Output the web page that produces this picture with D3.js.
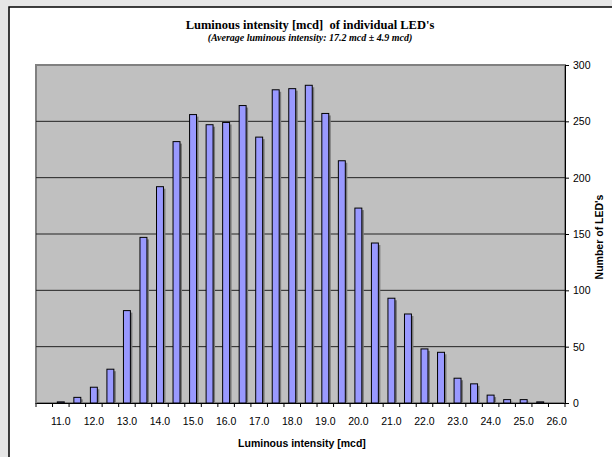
<!DOCTYPE html>
<html>
<head>
<meta charset="utf-8">
<script src="https://cdn.jsdelivr.net/npm/d3@7/dist/d3.min.js"></script>
<style>
  html, body { margin: 0; padding: 0; background: #e6e6e6; }
  svg { display: block; }
</style>
</head>
<body>
<svg id="chart" width="612" height="457"></svg>
<script>
const categories = ["10.5","11.0","11.5","12.0","12.5","13.0","13.5","14.0","14.5","15.0","15.5","16.0","16.5","17.0","17.5","18.0","18.5","19.0","19.5","20.0","20.5","21.0","21.5","22.0","22.5","23.0","23.5","24.0","24.5","25.0","25.5","26.0"];
const counts = [0, 1, 5, 14, 30, 82, 147, 192, 232, 256, 247, 249, 264, 236, 278, 279, 282, 257, 215, 173, 142, 93, 79, 48, 45, 22, 17, 7, 3, 3, 1, 0];
const yTicks = [0, 50, 100, 150, 200, 250, 300];
const xLabels = ["11.0","12.0","13.0","14.0","15.0","16.0","17.0","18.0","19.0","20.0","21.0","22.0","23.0","24.0","25.0","26.0"];
const titleText = "Luminous intensity [mcd]  of individual LED's";
const subtitleText = "(Average luminous intensity: 17.2 mcd \u00b1 4.9 mcd)";
const xTitle = "Luminous intensity [mcd]";
const yTitle = "Number of LED's";

const svg = d3.select("#chart");
// chart area
svg.append("rect").attr("x", 9).attr("y", 7).attr("width", 620).attr("height", 470)
  .attr("fill", "#ffffff").attr("stroke", "#000").attr("stroke-width", 1.5);

const L = 36, R = 565, T = 65, B = 403;
const x = d3.scaleBand().domain(categories).range([L, R]).paddingInner(0.58).paddingOuter(0.29);
const y = d3.scaleLinear().domain([0, 300]).range([B, T]);

svg.append("rect").attr("x", L).attr("y", T).attr("width", R - L).attr("height", B - T)
  .attr("fill", "#c0c0c0").attr("stroke", "#808080").attr("stroke-width", 2);

// gridlines
svg.append("g").selectAll("line").data(yTicks.filter(d => d > 0 && d < 300)).join("line")
  .attr("x1", L).attr("x2", R).attr("y1", d => y(d)).attr("y2", d => y(d))
  .attr("stroke", "#222").attr("stroke-width", 1);

// shadows
const bars = svg.append("g");
bars.selectAll("rect.sh").data(counts).join("rect").attr("class", "sh")
  .attr("x", (d, i) => x(categories[i]) + 2)
  .attr("y", d => y(d) + 2)
  .attr("width", x.bandwidth())
  .attr("height", d => Math.max(0, B - y(d) - 2))
  .attr("fill", d => d > 0 ? "#7a7a7a" : "none");
bars.selectAll("rect.b").data(counts).join("rect").attr("class", "b")
  .attr("x", (d, i) => x(categories[i]))
  .attr("y", d => y(d))
  .attr("width", x.bandwidth())
  .attr("height", d => B - y(d))
  .attr("fill", d => d > 0 ? "#9999ff" : "none")
  .attr("stroke", d => d > 0 ? "#000" : "none").attr("stroke-width", 1);

// x axis
const step = x.step();
const xAxis = d3.axisBottom(x).tickSize(0).tickFormat(d => xLabels.includes(d) ? d : "");
const gx = svg.append("g").attr("transform", `translate(0,${B})`).call(xAxis);
gx.select(".domain").attr("stroke", "#000").attr("stroke-width", 1);
gx.selectAll("text").attr("font-family", "Arial, 'Liberation Sans', sans-serif").attr("font-size", 10.5)
  .attr("fill", "#000").attr("dy", "1.8em");
// ticks at category boundaries
gx.append("g").selectAll("line").data(d3.range(categories.length + 1)).join("line")
  .attr("x1", i => L + i * step).attr("x2", i => L + i * step)
  .attr("y1", 0).attr("y2", 4).attr("stroke", "#000");

// y axis (right)
const yAxis = d3.axisRight(y).tickValues(yTicks).tickSize(4).tickPadding(4);
const gy = svg.append("g").attr("transform", `translate(${R},0)`).call(yAxis);
gy.select(".domain").attr("stroke", "#000").attr("stroke-width", 1);
gy.selectAll("line").attr("stroke", "#000");
gy.selectAll("text").attr("font-family", "Arial, 'Liberation Sans', sans-serif").attr("font-size", 10.5).attr("fill", "#000");

// titles
svg.append("text").attr("x", 310).attr("y", 29).attr("text-anchor", "middle")
  .style("white-space", "pre")
  .attr("font-family", "'Liberation Serif', 'Times New Roman', serif").attr("font-weight", "bold")
  .attr("font-size", 12.5).text(titleText);
svg.append("text").attr("x", 310).attr("y", 41).attr("text-anchor", "middle")
  .attr("font-family", "'Liberation Serif', 'Times New Roman', serif").attr("font-weight", "bold")
  .attr("font-style", "italic").attr("font-size", 10).text(subtitleText);
svg.append("text").attr("x", 302).attr("y", 447).attr("text-anchor", "middle")
  .attr("font-family", "Arial, 'Liberation Sans', sans-serif").attr("font-weight", "bold")
  .attr("font-size", 10.5).text(xTitle);
svg.append("text").attr("transform", `translate(603,237) rotate(-90)`).attr("text-anchor", "middle")
  .attr("font-family", "Arial, 'Liberation Sans', sans-serif").attr("font-weight", "bold")
  .attr("font-size", 10.5).text(yTitle);
</script>
</body>
</html>
